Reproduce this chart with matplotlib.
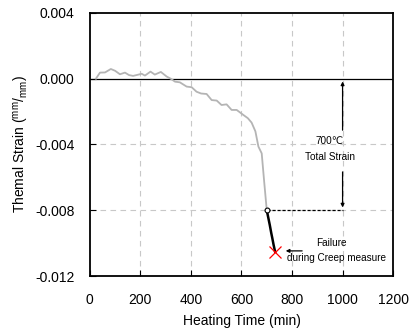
import matplotlib
matplotlib.use('Agg')
import matplotlib.pyplot as plt

plt.rcParams['font.family'] = ['Liberation Sans', 'DejaVu Sans']
plt.rcParams['mathtext.fontset'] = 'custom'
plt.rcParams['mathtext.rm'] = 'Liberation Sans'
plt.rcParams['mathtext.it'] = 'Liberation Sans'

# Datos de la curva de calentamiento (gris)
heat_time = [24, 40, 60, 83, 100, 119, 139, 155, 171, 190, 205, 218, 240, 257,
             281, 304, 320, 337, 356, 383, 403, 422, 440, 462, 482, 502, 521,
             541, 561, 581, 607, 625, 640, 655, 667, 680, 690, 700]
heat_strain = [0.0, 0.00037, 0.00038, 0.00059, 0.00048, 0.00027, 0.00037,
               0.00022, 0.00017, 0.00024, 0.0003, 0.00019, 0.00043, 0.00025,
               0.00041, 0.00013, 0.0, -0.00018, -0.00022, -0.00048, -0.00052,
               -0.00079, -0.0009, -0.00093, -0.0013, -0.00133, -0.0016,
               -0.00156, -0.0019, -0.0019, -0.0022, -0.0024, -0.00267,
               -0.0032, -0.00413, -0.00454, -0.0063, -0.008]

# Datos durante la medida de fluencia (negro)
creep_time = [700, 708, 712, 718, 722, 727, 733]
creep_strain = [-0.008, -0.0086, -0.0089, -0.0094, -0.0097, -0.0101, -0.01052]

fig = plt.figure(figsize=(4.16, 3.31), dpi=100)
ax = fig.add_axes([0.216, 0.166, 0.729, 0.795])

ax.plot(heat_time, heat_strain, color='#b4b4b4', lw=1.3, zorder=3)
ax.plot(creep_time, creep_strain, color='black', lw=1.8, zorder=4)
ax.plot([700], [-0.008], marker='o', ms=3.5, mfc='white', mec='black', mew=0.8, zorder=5)
ax.plot([733], [-0.01052], marker='x', ms=9, color='red', mew=0.9, zorder=5)

ax.axhline(0, color='black', lw=0.9, zorder=2)
ax.plot([700, 1000], [-0.008, -0.008], color='black', lw=0.9, ls=(0, (2.5, 1.5)), zorder=3)

# Flecha de deformación total
ax.annotate('', xy=(1000, 0), xytext=(1000, -0.0033),
            arrowprops=dict(arrowstyle='-|>', color='black', lw=0.9, mutation_scale=5))
ax.annotate('', xy=(1000, -0.008), xytext=(1000, -0.0055),
            arrowprops=dict(arrowstyle='-|>', color='black', lw=0.9, mutation_scale=5))
ax.text(950, -0.0038, '700\u2103', ha='center', va='center', fontsize=7.2)
ax.text(950, -0.00474, 'Total Strain', ha='center', va='center', fontsize=7.2)

ax.annotate('', xy=(764, -0.01047), xytext=(851, -0.01047),
            arrowprops=dict(arrowstyle='-|>', color='black', lw=0.9, mutation_scale=5))
ax.text(957, -0.00997, 'Failure', ha='center', va='center', fontsize=7.2)
ax.text(975, -0.01089, 'during Creep measure', ha='center', va='center', fontsize=7.2)

ax.set_xlim(0, 1200)
ax.set_ylim(-0.012, 0.004)
ax.set_xticks([0, 200, 400, 600, 800, 1000, 1200])
ax.set_yticks([-0.012, -0.008, -0.004, 0.0, 0.004])
ax.set_yticklabels(['-0.012', '-0.008', '-0.004', '0.000', '0.004'])
ax.tick_params(direction='in', labelsize=10, length=4, width=0.8)
ax.tick_params(axis='x', pad=12)
ax.tick_params(axis='y', pad=11)

for x in [200, 400, 600, 800, 1000]:
    ax.axvline(x, color='#c8c8c8', lw=0.8, ls=(0, (5, 4)), zorder=1)
for y in [-0.004, -0.008]:
    ax.axhline(y, color='#c8c8c8', lw=0.8, ls=(0, (5, 4)), zorder=1)

for s in ax.spines.values():
    s.set_linewidth(1.3)

ax.set_xlabel('Heating Time (min)', fontsize=10, labelpad=5)
ax.set_ylabel(r'Themal Strain ($^{mm}/_{mm}$)', fontsize=10, labelpad=3)

plt.savefig('out.png', dpi=100)
